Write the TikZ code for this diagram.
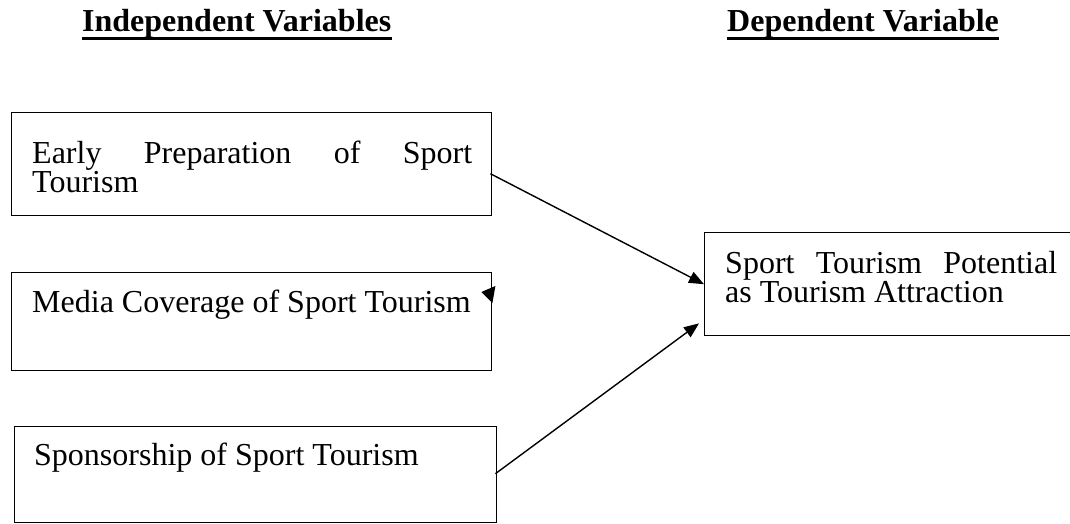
\documentclass[tikz,border=0pt]{standalone}
\usepackage{fontspec}
\setmainfont{Liberation Serif}
\usetikzlibrary{arrows.meta,calc}
\begin{document}
\begin{tikzpicture}[x=1pt,y=-1pt,
  box/.style={draw,line width=1.4pt,rectangle,inner sep=0pt,anchor=north west},
  txt/.style={inner sep=0pt,anchor=base west,font=\fontsize{32}{29}\selectfont},
  head/.style={inner sep=0pt,anchor=base west,font=\fontsize{32}{32}\selectfont\bfseries},
  conn/.style={line width=1.4pt,-{Triangle[length=15pt,width=12pt]}}]
\useasboundingbox (0,0) rectangle (1070,524);
\fill[white] (0,0) rectangle (1070,524);
% headers
\node[head] (h1) at (82,32) {Independent Variables};
\node[head] (h2) at (727,32) {Dependent Variable};
\draw[line width=3pt] ([yshift=-6.5pt]h1.base west) -- ([yshift=-6.5pt]h1.base east);
\draw[line width=3pt] ([yshift=-6.5pt]h2.base west) -- ([yshift=-6.5pt]h2.base east);
% boxes
\node[box,minimum width=480pt,minimum height=103pt] (b1) at (11,112) {};
\node[box,minimum width=480pt,minimum height=98pt] (b2) at (11,272) {};
\node[box,minimum width=482pt,minimum height=96pt] (b3) at (14,426) {};
\node[box,minimum width=380pt,minimum height=103pt] (b4) at (704,232) {};
% texts
\node[txt] (t1a) at (32,163) {\makebox[440pt][s]{Early\hfill Preparation\hfill of\hfill Sport}};
\node[txt] (t1b) at (32,192) {Tourism};
\node[txt] (t2) at (32,312) {Media Coverage of Sport Tourism};
\node[txt] (t3) at (34,465) {Sponsorship of Sport Tourism};
\node[txt] (t4a) at (725,273) {\makebox[332pt][s]{Sport\hfill Tourism\hfill Potential}};
\node[txt] (t4b) at (725,302) {as Tourism Attraction};
% connectors
\coordinate (s1) at ($(b1.east)+(-2,9.5)$);
\coordinate (s2) at ($(b3.east)+(-2,-1)$);
\coordinate (e2) at ($(b4.south west)+(-5,-13)$);
\draw[conn] (s1) -- (b4.west);
\draw[conn] (s2) -- (e2);
% stray arrowhead on media box
\fill ($(b2.north east)+(-11,20)$) -- ($(b2.north east)+(3,14)$) -- ($(b2.north east)+(0,31)$) -- cycle;
\end{tikzpicture}
\end{document}
